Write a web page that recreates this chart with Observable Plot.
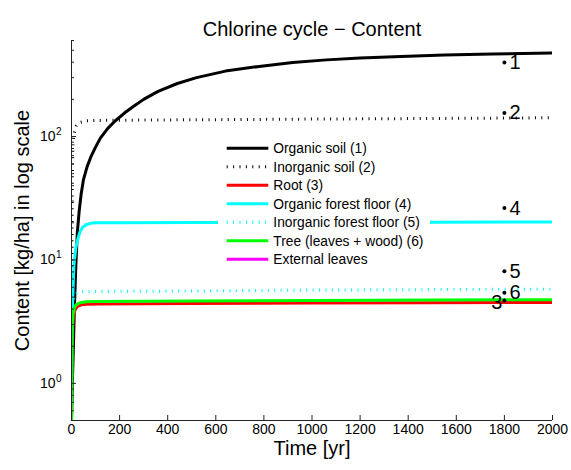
<!DOCTYPE html>
<html>
<head>
<meta charset="utf-8">
<script src="https://cdn.jsdelivr.net/npm/d3@7"></script>
<script src="https://cdn.jsdelivr.net/npm/@observablehq/plot@0.6"></script>
<style>
  body { margin: 0; background: #fff; font-family: "Liberation Sans", Arial, Helvetica, sans-serif; }
  #wrap { position: relative; width: 571px; height: 470px; }
  #legend { position: absolute; left: 218px; top: 139px; }
</style>
</head>
<body>
<div id="wrap"><div id="chart"></div><svg id="legend" width="212" height="129"></svg></div>
<script>
// ---- data ----
const seriesNames = ["Organic soil (1)", "Inorganic soil (2)", "Root (3)", "Organic forest floor (4)",
  "Inorganic forest floor (5)", "Tree (leaves + wood) (6)", "External leaves"];
const seriesColors = ["#000000", "#000000", "#ff0000", "#00ffff", "#00ffff", "#00ff00", "#ff00ff"];
const seriesDotted = [false, true, false, false, true, false, false];

const tOrgSoil = [0, 4, 8, 12, 18, 24, 32, 40, 50, 65, 80, 100, 120, 150, 180, 220, 260, 300, 360, 440, 520, 640, 780, 920, 1060, 1200, 1370, 1550, 1750, 2000];
const vOrgSoil = [0.5, 1.1, 2.0, 4.0, 9.0, 16.5, 25, 34, 45, 57, 68, 82, 97, 116, 133, 155, 177, 200, 232, 269, 300, 339, 370, 398, 418, 433, 445, 457, 467, 476];

const tInorgSoil = [0, 3, 6, 10, 20, 35, 60, 100, 300, 600, 1000, 1500, 2000];
const vInorgSoil = [0.5, 40, 85, 104, 122, 130, 134, 135, 136, 137, 138.5, 140, 142];

const tRoot = [0, 3, 8, 15, 25, 40, 60, 100, 500, 1000, 1500, 2000];
const vRoot = [0.5, 2.5, 3.5, 3.95, 4.2, 4.33, 4.38, 4.4, 4.43, 4.47, 4.5, 4.52];

const tOrgFloor = [0, 2, 5, 10, 18, 25, 35, 45, 60, 80, 100, 200, 500, 1000, 1500, 2000];
const vOrgFloor = [0.5, 2.5, 5, 9, 12.5, 14.5, 16.8, 18.3, 19.3, 19.8, 20.0, 20.0, 20.1, 20.2, 20.25, 20.3];

const tInorgFloor = [0, 3, 8, 15, 25, 50, 500, 1000, 2000];
const vInorgFloor = [0.5, 3, 4.8, 5.3, 5.45, 5.55, 5.6, 5.7, 5.8];

const tTree = [0, 2, 6, 12, 20, 35, 60, 100, 500, 1000, 1500, 2000];
const vTree = [0.5, 2.5, 3.6, 4.1, 4.35, 4.5, 4.58, 4.6, 4.65, 4.7, 4.73, 4.76];

const tExtLeaves = [0, 2000];
const vExtLeaves = [0.1, 0.1];   // below the visible range: not seen in the picture

const markerNames = ["1", "2", "3", "4", "5", "6"];
const markerValues = [398, 155, 4.69, 26.3, 8.09, 5.41];
const markerTime = 1800;

const xTicks = [0, 200, 400, 600, 800, 1000, 1200, 1400, 1600, 1800, 2000];
const yMajor = [1, 10, 100];
const yExponents = ["0", "1", "2"];
const yMinor = [0.6, 0.7, 0.8, 0.9, 2, 3, 4, 5, 6, 7, 8, 9, 20, 30, 40, 50, 60, 70, 80, 90, 200, 300, 400, 500, 600];

// ---- build table ----
const allT = [tOrgSoil, tInorgSoil, tRoot, tOrgFloor, tInorgFloor, tTree, tExtLeaves];
const allV = [vOrgSoil, vInorgSoil, vRoot, vOrgFloor, vInorgFloor, vTree, vExtLeaves];
const series = seriesNames.map((name, i) => allT[i].map((t, j) => ({t, v: allV[i][j], name})));

const font = '"Liberation Sans", Arial, Helvetica, sans-serif';
const W = 571, H = 470, mL = 71, mR = 19, mT = 40, mB = 50;
const fw = W - mL - mR, fh = H - mT - mB;

const lineMarks = series.map((data, i) => Plot.line(data, {
  x: "t", y: "v", stroke: seriesColors[i], strokeWidth: 3, clip: true,
  strokeDasharray: seriesDotted[i] ? "1 5.4" : null, strokeLinecap: "butt"
}));

const markers = markerNames.map((n, i) => ({n, v: markerValues[i], t: markerTime}));
const markersRight = markers.filter(d => d.n !== "3");
const markersLeft = markers.filter(d => d.n === "3");

const chart = Plot.plot({
  width: W, height: H, marginLeft: mL, marginRight: mR, marginTop: mT, marginBottom: mB,
  style: {fontFamily: font, background: "#fff", overflow: "visible"},
  x: {domain: [0, 2000], label: null},
  y: {type: "log", domain: [0.5, 600], axis: null},
  marks: [
    ...lineMarks,
    Plot.ruleX([0], {stroke: "#222", strokeWidth: 1}),
    Plot.ruleY([0.5], {stroke: "#222", strokeWidth: 1}),
    Plot.tickX(xTicks, {x: d => d, insetTop: fh - 5, stroke: "#222"}),
    Plot.tickY(yMajor, {y: d => d, insetRight: fw - 5, stroke: "#222"}),
    Plot.tickY(yMinor, {y: d => d, insetRight: fw - 3, stroke: "#222"}),
    Plot.axisX(xTicks, {tickSize: 0, tickPadding: 4, fontSize: 14, fill: "#000", label: null, tickFormat: d => String(d)}),
    Plot.text(yMajor, {x: 0, y: d => d, text: d => "10", textAnchor: "end", dx: -16, fontSize: 14, fill: "#000"}),
    Plot.text(yMajor, {x: 0, y: d => d, text: (d, i) => yExponents[i], textAnchor: "start", dx: -15.5, dy: -5, fontSize: 10, fill: "#000"}),
    Plot.dot(markers, {x: "t", y: "v", r: 2, fill: "#000", stroke: null}),
    Plot.text(markersRight, {x: "t", y: "v", text: "n", fontSize: 20, fill: "#000", textAnchor: "start", dx: 5}),
    Plot.text(markersLeft, {x: "t", y: "v", text: "n", fontSize: 20, fill: "#000", textAnchor: "end", dx: -2, dy: 2}),
    Plot.text(["Chlorine cycle − Content"], {frameAnchor: "top", textAnchor: "middle", dy: -19, fontSize: 20, fill: "#000"}),
    Plot.text(["Time [yr]"], {frameAnchor: "bottom", textAnchor: "middle", dy: 34, fontSize: 20, fill: "#000"}),
    Plot.text(["Content [kg/ha] in log scale"], {frameAnchor: "left", textAnchor: "middle", dx: -48.5, rotate: -90, fontSize: 20, fill: "#000"})
  ]
});
document.getElementById("chart").appendChild(chart);

// ---- legend (white box, no border) ----
const lg = d3.select("#legend");
lg.append("rect").attr("width", 212).attr("height", 129).attr("fill", "#fff");
seriesNames.forEach((name, i) => {
  const y = 9.3 + i * 18.5;
  lg.append("line").attr("x1", 8.7).attr("x2", 50.3).attr("y1", y).attr("y2", y)
    .attr("stroke", seriesColors[i]).attr("stroke-width", 3)
    .attr("stroke-dasharray", seriesDotted[i] ? "1 5.4" : null);
  lg.append("text").attr("x", 55.3).attr("y", y).attr("dy", "0.35em")
    .attr("font-family", font).attr("font-size", 13.8).attr("fill", "#000").text(name);
});
</script>
</body>
</html>
